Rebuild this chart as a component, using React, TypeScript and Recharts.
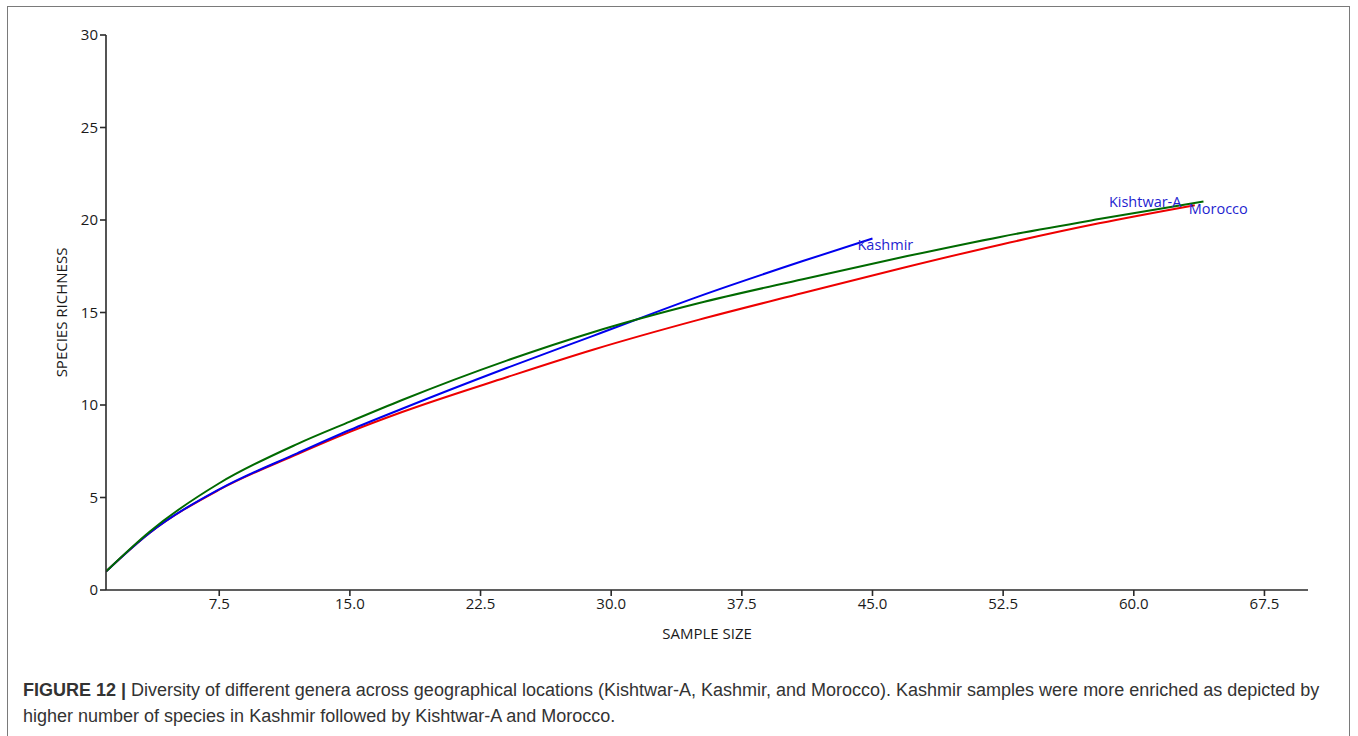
import React from "react";
import { LineChart, Line, XAxis, YAxis, ReferenceDot } from "recharts";

// Sample sizes and species richness
const kashmirX = [1, 3.5, 7.5, 12, 15, 18, 24, 29, 35, 41, 45];
const kashmirY = [1, 3.08, 5.44, 7.4, 8.65, 9.8, 12.0, 13.75, 15.86, 17.78, 19.0];

const kishtwarX = [1, 3.5, 7.5, 12, 15, 18, 24, 29, 35, 41, 47, 52.4, 58, 64];
const kishtwarY = [1, 3.15, 5.77, 7.9, 9.1, 10.27, 12.4, 13.95, 15.5, 16.8, 18.05, 19.1, 20.05, 21.0];

const moroccoX = [1, 3.5, 7.5, 12, 15, 18, 24, 29, 35, 41, 46.6, 52.4, 58, 63.5];
const moroccoY = [1, 3.08, 5.42, 7.35, 8.55, 9.62, 11.5, 13.0, 14.6, 16.05, 17.38, 18.68, 19.82, 20.8];

const xTicks = [7.5, 15.0, 22.5, 30.0, 37.5, 45.0, 52.5, 60.0, 67.5];
const yTicks = [0, 5, 10, 15, 20, 25, 30];

const toRows = (xs: number[], ys: number[]) => xs.map((x, i) => ({ x, y: ys[i] }));
const kashmir = toRows(kashmirX, kashmirY);
const kishtwar = toRows(kishtwarX, kishtwarY);
const morocco = toRows(moroccoX, moroccoY);

const FONT = "'Open Sans', 'Segoe UI', sans-serif";
const LABEL_COLOR = "#1f1fd0";

const endLabel = (text: string, dx: number, dy: number, anchor: "start" | "end") =>
  (props: any) => (
    <text
      x={props.cx + dx}
      y={props.cy + dy}
      textAnchor={anchor}
      dominantBaseline="central"
      fill={LABEL_COLOR}
      fontFamily={FONT}
      fontSize={14.5}
    >
      {text}
    </text>
  );

const tickStyle = { fill: "#1a1a1a", fontSize: 15, fontFamily: FONT };

export default function App() {
  return (
    <div style={{ position: "absolute", left: 0, top: 0, width: 1358, height: 736, background: "#fff", overflow: "hidden" }}>
      <div
        style={{
          position: "absolute",
          left: 7,
          top: 6,
          width: 1341,
          height: 760,
          border: "1.5px solid #7a7a7a",
        }}
      />
      <div style={{ position: "absolute", left: 0, top: 0 }}>
        <LineChart
          width={1358}
          height={680}
          margin={{ top: 35, right: 50, left: 0, bottom: 40 }}
        >
          <XAxis
            dataKey="x"
            type="number"
            domain={[1, 70]}
            ticks={xTicks}
            tickFormatter={(v: number) => v.toFixed(1)}
            allowDataOverflow
            stroke="#2a2a2a"
            strokeWidth={1.6}
            tickSize={6}
            tick={tickStyle}
            height={50}
            label={{ value: "SAMPLE SIZE", position: "insideBottom", offset: 1, fill: "#1a1a1a", fontSize: 15, fontFamily: FONT }}
          />
          <XAxis xAxisId="top" orientation="top" type="number" domain={[1, 70]} tick={false} tickLine={false} height={0} stroke="#2a2a2a" strokeWidth={1.6} />
          <YAxis
            type="number"
            domain={[0, 30]}
            ticks={yTicks}
            stroke="#2a2a2a"
            strokeWidth={1.6}
            tickSize={6}
            tick={tickStyle}
            width={106}
            label={{ value: "SPECIES RICHNESS", angle: -90, position: "insideLeft", offset: 62, style: { textAnchor: "middle" }, fill: "#1a1a1a", fontSize: 15, fontFamily: FONT }}
          />
          <YAxis yAxisId="right" orientation="right" type="number" domain={[0, 30]} tick={false} tickLine={false} width={0} stroke="#2a2a2a" strokeWidth={1.6} />
          <Line data={morocco} dataKey="y" type="monotone" stroke="#ee0000" strokeWidth={2} dot={false} isAnimationActive={false} />
          <Line data={kashmir} dataKey="y" type="monotone" stroke="#0000ee" strokeWidth={2} dot={false} isAnimationActive={false} />
          <Line data={kishtwar} dataKey="y" type="monotone" stroke="#006a00" strokeWidth={2} dot={false} isAnimationActive={false} />
          <ReferenceDot
            x={kashmirX[kashmirX.length - 1]}
            y={kashmirY[kashmirY.length - 1]}
            r={0}
            shape={endLabel("Kashmir", -15, 6, "start")}
          />
          <ReferenceDot
            x={kishtwarX[kishtwarX.length - 1]}
            y={kishtwarY[kishtwarY.length - 1]}
            r={0}
            shape={endLabel("Kishtwar-A", -22, 0, "end")}
          />
          <ReferenceDot
            x={moroccoX[moroccoX.length - 1]}
            y={moroccoY[moroccoY.length - 1]}
            r={0}
            shape={endLabel("Morocco", -6, 3, "start")}
          />
        </LineChart>
      </div>
      <div
        style={{
          position: "absolute",
          left: 23,
          top: 677,
          width: 1320,
          fontFamily: "'Liberation Sans', Arial, sans-serif",
          fontSize: 18,
          lineHeight: "26px",
          color: "#333",
          whiteSpace: "nowrap",
        }}
      >
        <b>FIGURE 12 |</b> Diversity of different genera across geographical locations (Kishtwar-A, Kashmir, and Morocco). Kashmir samples were more enriched as depicted by
        <br />
        higher number of species in Kashmir followed by Kishtwar-A and Morocco.
      </div>
    </div>
  );
}
